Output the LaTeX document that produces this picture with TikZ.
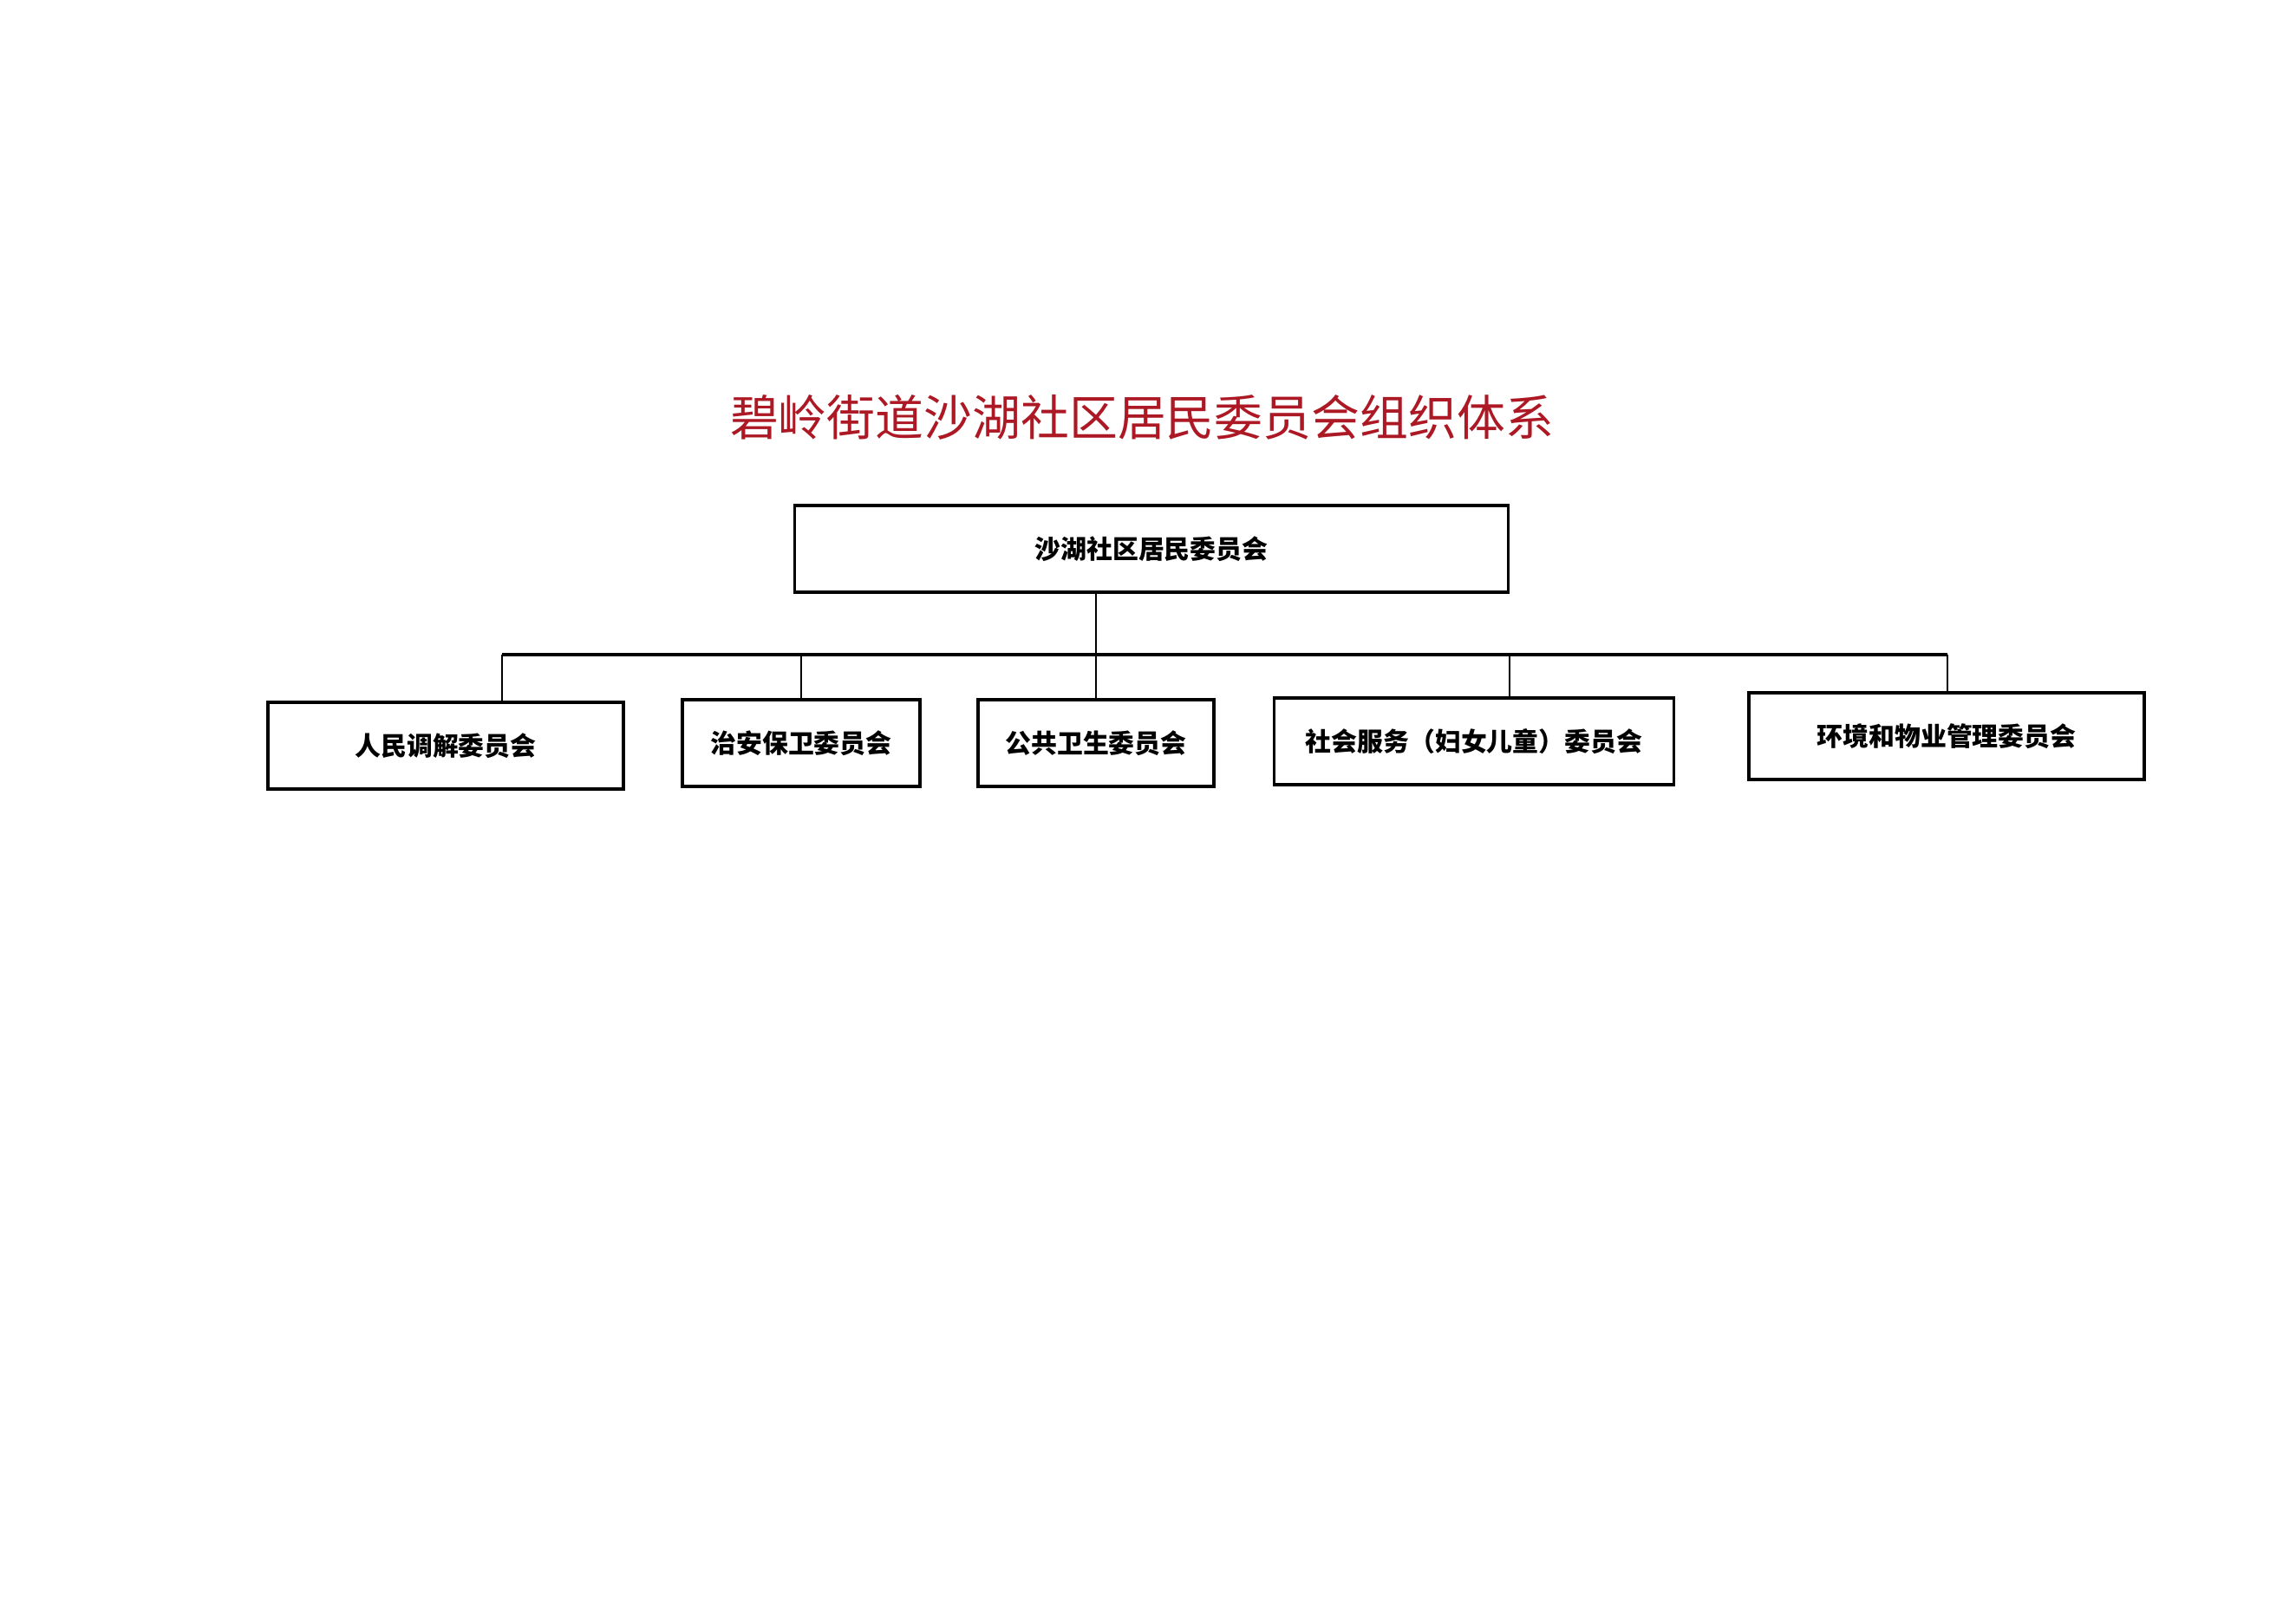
\documentclass[tikz,border=0pt]{standalone}
\usepackage{fontspec}
\setmainfont{Noto Sans CJK SC}
\usepackage{tikz}
\usetikzlibrary{calc}
\definecolor{titlered}{RGB}{172,24,36}
\tikzset{
	orgbox/.style={draw, line width=1.1pt, minimum height=\bh cm, inner sep=0pt,
		font=\fontsize{8.5}{10}\selectfont\bfseries},
	link/.style={line width=0.75pt}
}

\begin{document}
\begin{tikzpicture}[auto,swap]
	\def\bh{1.0}
	\useasboundingbox (0,0) rectangle (26.48,-18.72);

	\node[text=titlered, font=\fontsize{15.9}{18}\selectfont] (title) at (13.17,-4.81) {碧岭街道沙湖社区居民委员会组织体系};

	\node[orgbox, minimum width=8.23cm] (top) at (13.28,-6.33) {沙湖社区居民委员会};

	\node[orgbox, minimum width=4.10cm] (med) at (5.14,-8.60) {人民调解委员会};
	\node[orgbox, minimum width=2.74cm] (sec) at (9.24,-8.57) {治安保卫委员会};
	\node[orgbox, minimum width=2.72cm] (pub) at (12.64,-8.57) {公共卫生委员会};
	\node[orgbox, minimum width=4.61cm] (soc) at (17.00,-8.55) {社会服务（妇女儿童）委员会};
	\node[orgbox, minimum width=4.56cm] (env) at (22.45,-8.49) {环境和物业管理委员会};

	% bus line
	\coordinate (b1) at (5.79,-7.55);
	\coordinate (b4) at (17.41,-7.55);
	\coordinate (b5) at (22.46,-7.55);
	\draw[link] (top.south -| pub.north) -- (pub.north);
	\draw[link, line width=1pt] (b1) -- (b5);
	\foreach \b/\n in {b1/med, b4/soc, b5/env}
		\draw[link] (\b) -- (\b |- \n.north);
	\draw[link] (b1 -| sec.north) -- (sec.north);

\end{tikzpicture}
\end{document}
